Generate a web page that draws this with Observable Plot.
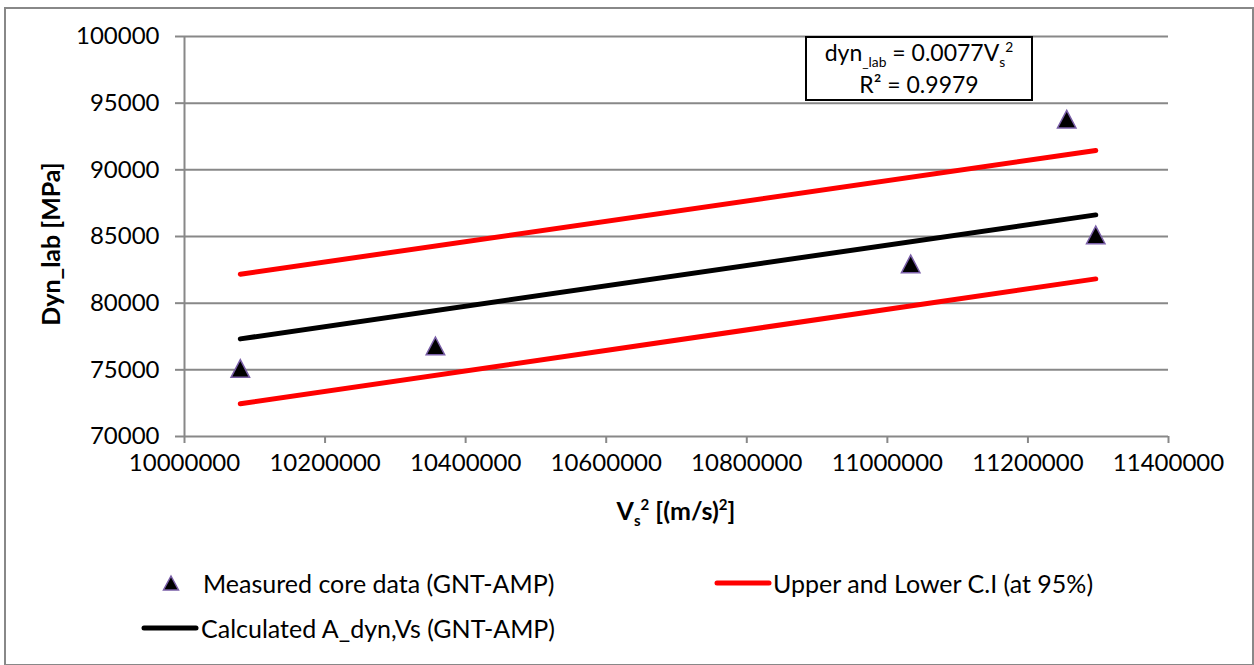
<!DOCTYPE html>
<html>
<head>
<meta charset="utf-8">
<script src="https://cdn.jsdelivr.net/npm/d3@7"></script>
<script src="https://cdn.jsdelivr.net/npm/@observablehq/plot@0.6"></script>
<style>
  body { margin: 0; background: #fff; }
  #wrap { position: relative; width: 1254px; height: 665px; font-family: Lato, "Open Sans", sans-serif; color: #000; overflow: hidden; }
  #frame { position: absolute; left: 4px; top: 7px; width: 1246px; height: 655px; border: 2px solid #888; }
  #chart { position: absolute; left: 0; top: 0; }
  .abs { position: absolute; white-space: nowrap; line-height: 1; }
  #eq { position: absolute; left: 805px; top: 36px; width: 224px; height: 61px; border: 2px solid #000; background: #fff; font-size: 23px; text-align: center; }
  #eq .l { position: absolute; left: 0; right: 0; line-height: 1; white-space: nowrap; }
  #ylab { font-weight: bold; font-size: 25px; left: 50px; top: 244px; transform: translate(-50%, -50%) rotate(-90deg); }
  #xlab { font-weight: bold; font-size: 25px; left: 676px; top: 510px; transform: translate(-50%, -50%); }
  .leg { font-size: 25px; transform: translateY(-50%); }
  sub, sup { font-size: 0.6em; line-height: 0; }
</style>
</head>
<body>
<div id="wrap">
  <div id="frame"></div>
  <div id="chart"></div>
</div>
<script>
// ---- data ----
const vs2Measured = [10079400, 10357000, 11033200, 11255200, 11296500];
const dynMeasured = [75100, 76800, 82950, 93800, 85120];

const vs2Line = [10079400, 11296500];
const dynCalculated = [77320, 86620];
const dynUpperCI = [82170, 91450];
const dynLowerCI = [72450, 81820];

const xTicks = [10000000, 10200000, 10400000, 10600000, 10800000, 11000000, 11200000, 11400000];
const yTicks = [70000, 75000, 80000, 85000, 90000, 95000, 100000];

const seriesNames = ["Measured core data (GNT-AMP)", "Upper and Lower C.I (at 95%)", "Calculated A_dyn,Vs (GNT-AMP)"];
const equationText = ["dyn", "_lab", " = 0.0077V", "s", "2"];
const r2Text = "R² = 0.9979";

// ---- tables ----
const measured = vs2Measured.map((x, i) => ({x, y: dynMeasured[i]}));
const calc = vs2Line.map((x, i) => ({x, y: dynCalculated[i]}));
const upper = vs2Line.map((x, i) => ({x, y: dynUpperCI[i]}));
const lower = vs2Line.map((x, i) => ({x, y: dynLowerCI[i]}));

// triangle symbol centred on its bounding box (like the spreadsheet marker)
const boxTriangle = {
  draw(context, size) {
    const r = Math.sqrt(size / Math.PI);
    context.moveTo(0, -r);
    context.lineTo(r * 1.05, r);
    context.lineTo(-r * 1.05, r);
    context.closePath();
  }
};

const gray = "#888888";
const chart = Plot.plot({
  width: 1254,
  height: 540,
  marginLeft: 184,
  marginRight: 86,
  marginTop: 36,
  marginBottom: 104,
  style: {fontFamily: "Lato, 'Open Sans', sans-serif", fontSize: "24px", color: "#000", background: "transparent", overflow: "visible"},
  x: {domain: [10000000, 11400000]},
  y: {domain: [70000, 100000]},
  marks: [
    Plot.gridY(yTicks, {stroke: gray, strokeOpacity: 1, strokeWidth: 2}),
    Plot.ruleX([10000000], {stroke: gray, strokeWidth: 2}),
    Plot.axisX(xTicks, {tickSize: 7, tickPadding: 10, stroke: gray, strokeWidth: 2, fill: "#000", tickFormat: d => String(d), label: null, fontSize: 24}),
    Plot.axisY(yTicks, {tickSize: 9, tickPadding: 16, stroke: gray, strokeWidth: 2, fill: "#000", tickFormat: d => String(d), label: null, fontSize: 24}),
    Plot.line(upper, {x: "x", y: "y", stroke: "#ff0000", strokeWidth: 5, strokeLinecap: "round"}),
    Plot.line(lower, {x: "x", y: "y", stroke: "#ff0000", strokeWidth: 5, strokeLinecap: "round"}),
    Plot.line(calc, {x: "x", y: "y", stroke: "#000", strokeWidth: 5, strokeLinecap: "round"}),
    Plot.dot(measured, {x: "x", y: "y", symbol: boxTriangle, r: 8.8, fill: "#000", stroke: "#7a5fa8", strokeWidth: 1.5})
  ]
});
document.getElementById("chart").appendChild(chart);

const wrap = document.getElementById("wrap");
function addDiv(html, cls, id, styleText, parent) {
  const d = document.createElement("div");
  d.className = cls;
  if (id) d.id = id;
  if (styleText) d.setAttribute("style", styleText);
  d.innerHTML = html;
  (parent || wrap).appendChild(d);
  return d;
}

// equation box
const eq = addDiv("", "", "eq");
addDiv(`${equationText[0]}<sub>${equationText[1]}</sub>${equationText[2]}<sub>${equationText[3]}</sub><sup>${equationText[4]}</sup>`, "l", null, "top:3px;", eq);
addDiv(r2Text, "l", null, "top:35px;", eq);

// axis titles
addDiv("Dyn_lab [MPa]", "abs", "ylab");
addDiv("V<sub>s</sub><sup>2</sup> [(m/s)<sup>2</sup>]", "abs", "xlab");

// legend
const tri = `<svg width="18" height="18" style="display:block"><path d="M9,2 L16.5,16 L1.5,16 Z" fill="#000" stroke="#7a5fa8" stroke-width="1.5"/></svg>`;
const lineSym = c => `<svg width="58" height="10" style="display:block"><line x1="3" y1="5" x2="55" y2="5" stroke="${c}" stroke-width="5" stroke-linecap="round"/></svg>`;
addDiv(tri, "abs leg", null, "left:162px; top:583px;");
addDiv(seriesNames[0], "abs leg", null, "left:203px; top:583px;");
addDiv(lineSym("#ff0000"), "abs leg", null, "left:714px; top:583px;");
addDiv(seriesNames[1], "abs leg", null, "left:773px; top:583px;");
addDiv(lineSym("#000"), "abs leg", null, "left:141px; top:628px;");
addDiv(seriesNames[2], "abs leg", null, "left:201px; top:628px;");
</script>
</body>
</html>
